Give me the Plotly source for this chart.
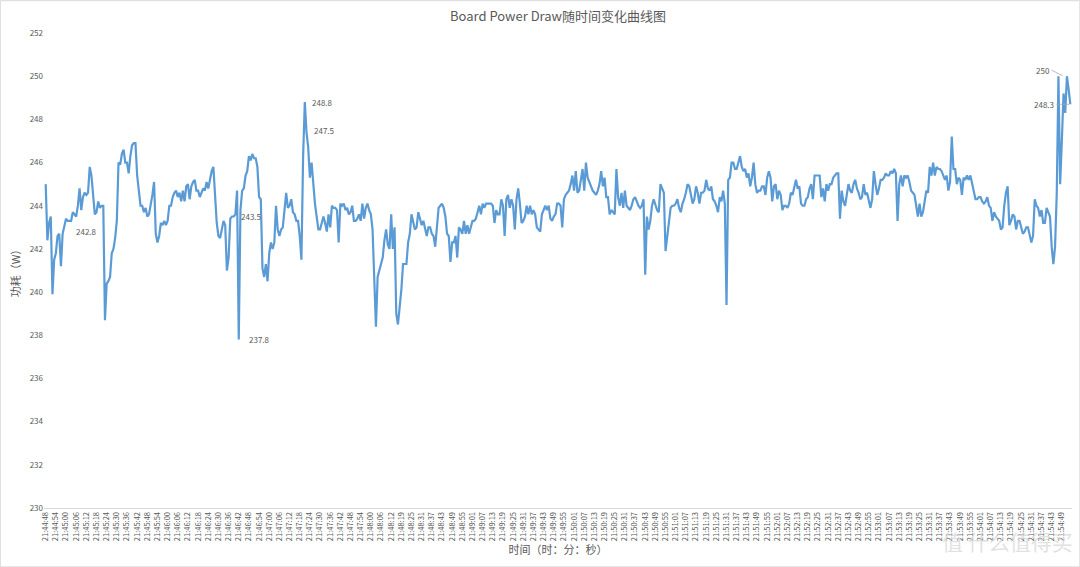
import datetime as dt
import plotly.graph_objects as go

# ---------------- data ----------------
start_time = "21:44:48"
skip_after_index = 206          # one second missing in the log after this sample
label_step = 6

power_a = [245.0, 242.4, 243.2, 243.5, 239.9, 241.5, 241.8, 242.6, 242.7, 241.2,
           242.7, 243.0, 243.4, 243.3, 243.3, 243.3, 243.7, 243.6, 243.5, 244.0,
           244.8, 243.8, 244.4, 244.6, 244.5, 244.6, 245.8, 245.4, 244.4, 243.6,
           243.7, 244.2, 243.9, 244.0, 244.0, 238.7, 240.4, 240.5, 240.7, 241.8,
           242.0, 242.5, 243.3, 246.0, 245.9, 246.4, 246.6, 246.0, 246.0, 245.5,
           246.3, 246.8, 246.9, 246.9, 245.4, 244.7, 244.0, 244.0, 243.7, 243.9,
           243.5, 243.6, 244.0, 244.5, 245.1, 242.7, 242.3, 242.6, 243.2, 243.1,
           243.3, 243.1, 243.3, 244.0, 244.0, 244.4, 244.6, 244.7, 244.4, 244.6,
           244.2, 244.7, 244.2, 244.9, 245.0, 244.3, 244.9, 245.1, 245.2, 244.7,
           244.7, 244.4, 244.6, 244.8, 244.7, 245.1, 244.8, 245.3, 245.6, 245.8,
           244.6, 243.2, 242.6, 242.5, 242.9, 243.3, 243.1, 241.0, 241.6, 243.4,
           243.5, 243.5, 243.6, 244.7, 237.8, 243.8, 244.7, 244.8, 245.4, 245.6,
           246.3, 246.1, 246.4, 246.2, 246.2, 245.8, 244.4, 244.3, 241.1, 240.7,
           241.3, 240.5, 241.8, 242.3, 242.0, 242.3, 244.0, 242.9, 242.6, 242.9,
           243.0, 243.8, 244.6, 243.9, 244.0, 244.3, 243.7, 243.6, 243.3, 243.3]

power_b = [242.6, 241.5, 246.3, 248.8, 247.4, 246.7, 245.3, 246.0, 244.9, 244.1,
           243.5, 242.9, 242.9, 243.2, 243.5, 243.2, 242.8, 243.6, 243.0, 244.0,
           243.9, 243.9, 243.8, 242.3, 244.1, 244.0, 244.1, 243.8, 243.9, 243.6,
           243.7, 244.0, 243.3, 243.3, 243.4, 243.6, 243.3, 244.1, 243.4, 243.9,
           244.1, 243.8, 243.6, 242.9, 240.9, 238.4, 240.7, 241.0, 241.2, 241.6,
           242.4, 242.9, 242.2, 242.0, 243.6, 242.0, 243.0, 239.0, 238.5, 239.2,
           240.1, 241.3, 241.3, 241.3, 242.3, 242.7, 243.6, 243.3, 242.9, 243.0,
           243.7, 243.4, 243.1, 243.3, 242.9, 242.6, 243.0, 243.0, 242.7, 242.6,
           242.1, 243.2, 243.9, 244.0, 244.1, 243.9, 243.5, 242.7, 242.6, 241.4,
           242.3, 242.3, 242.6, 241.6, 243.0, 242.9, 242.7, 243.3, 242.7, 243.1,
           242.7, 243.0, 243.3, 243.3, 243.4, 243.7, 244.0, 243.6, 244.1, 243.9,
           244.1, 244.1, 244.1, 244.1, 244.0, 243.2, 243.8, 243.6, 243.6, 244.3,
           244.0, 242.6, 244.3, 244.5, 243.9, 244.3, 244.0, 242.9, 244.3, 244.8,
           244.1, 243.2, 243.3, 243.5, 244.0, 243.6, 244.0, 243.6, 243.8, 243.6,
           243.0, 242.9, 242.8, 243.6, 243.8, 244.0, 243.8, 244.0, 243.4, 243.3,
           243.5, 243.6, 244.1]

power_c = [244.1, 244.0, 243.0, 244.3, 244.5, 244.6, 244.7, 245.0, 245.4, 244.7,
           245.6, 244.6, 244.7, 245.2, 245.7, 244.7, 246.0, 245.3, 245.1, 244.9,
           244.7, 244.6, 244.5, 244.7, 245.0, 245.6, 244.9, 245.3, 244.4, 244.4,
           243.6, 243.8, 243.7, 243.6, 245.7, 244.4, 244.0, 244.6, 243.9, 244.7,
           244.0, 243.9, 243.8, 244.0, 244.3, 244.4, 244.2, 244.0, 243.9, 244.0,
           244.3, 240.8, 243.5, 242.9, 243.3, 244.0, 244.3, 244.0, 243.8, 243.7,
           245.0, 244.8, 244.6, 241.9, 242.6, 243.3, 243.9, 244.0, 244.0, 244.1,
           244.3, 243.9, 243.7, 244.1, 244.3, 244.6, 245.0, 244.9, 244.5, 244.1,
           244.3, 244.9, 244.6, 244.1, 244.6, 244.6, 244.7, 245.2, 244.8, 244.7,
           244.9, 244.3, 244.2, 244.0, 243.7, 244.4, 244.2, 244.7, 244.1, 239.4,
           245.2, 245.3, 246.0, 246.0, 245.7, 245.7, 246.0, 246.3, 245.8, 245.6,
           245.7, 245.3, 245.5, 244.9, 245.3, 246.0, 245.0, 244.6, 244.7, 244.7,
           244.9, 244.9, 244.5, 245.3, 245.6, 245.3, 244.2, 244.9, 245.0, 244.3,
           244.7, 244.5, 243.8, 244.0, 244.0, 243.9, 244.1, 244.6, 244.5, 244.9,
           245.2, 244.8, 244.9, 244.1, 244.0, 244.0, 244.3, 244.4, 244.8, 245.0,
           244.3, 245.4, 245.4]

power_d = [245.4, 245.4, 244.4, 244.8, 244.2, 245.0, 244.7, 245.0, 245.0, 245.3,
           245.4, 245.5, 245.5, 243.4, 244.7, 244.2, 244.0, 244.6, 245.0, 244.7,
           244.6, 245.0, 245.2, 244.8, 244.6, 244.3, 244.4, 245.0, 244.5, 244.6,
           244.3, 243.9, 244.3, 245.6, 245.0, 244.5, 244.8, 245.2, 245.2, 245.3,
           245.5, 245.4, 245.4, 245.6, 245.5, 245.7, 245.5, 243.3, 245.0, 245.4,
           244.9, 245.4, 245.3, 245.4, 245.1, 244.7, 244.6, 244.5, 244.0, 243.5,
           244.1, 243.5, 243.7, 244.3, 244.7, 244.6, 245.8, 245.4, 246.0, 245.4,
           245.8, 245.7, 245.7, 245.6, 245.4, 245.2, 245.4, 244.7, 245.1, 247.2,
           245.7, 245.7, 245.0, 245.3, 245.2, 244.5, 245.3, 245.2, 245.4, 245.2,
           245.4, 245.0, 244.7, 244.3, 244.3, 244.4, 244.4, 244.2, 244.1, 244.2,
           244.4, 244.0, 243.9, 243.3, 243.7, 243.5, 243.4, 243.3, 242.9, 243.0,
           244.0, 244.6, 244.9, 243.1, 243.3, 243.6, 243.5, 242.9, 243.3, 243.3,
           243.0, 242.7, 242.8, 243.0, 243.0, 242.6, 242.3, 242.6, 244.3, 244.0,
           243.9, 243.5, 243.8, 243.2, 243.2, 243.9, 243.7, 243.5, 242.1, 241.3,
           242.1, 244.6, 250.0, 245.0, 247.0, 249.2, 248.3, 250.0, 249.4, 248.7]

power = power_a + power_b + power_c + power_d

# data labels shown in the original chart: (sample index, value, text)
label_points = [(17, 242.8, "242.8"), (114, 243.5, "243.5"), (119, 237.8, "237.8"),
                (156, 248.8, "248.8"), (157, 247.5, "247.5")]
leader_labels = [(601, 250.0, "250"), (605, 248.7, "248.3")]

title_text = "Board Power Draw随时间变化曲线图"
x_title = "时间（时：分：秒）"
y_title = "功耗（W）"
y_ticks = list(range(230, 253, 2))
watermark = "值 什么值得买"

# ---------------- categories (time stamps) ----------------
t0 = dt.datetime.strptime(start_time, "%H:%M:%S")
times = []
for i in range(len(power)):
    sec = i + (1 if i > skip_after_index else 0)
    times.append((t0 + dt.timedelta(seconds=sec)).strftime("%H:%M:%S"))
idx = list(range(len(power)))
tick_idx = idx[::label_step]
tick_txt = times[::label_step]

FONT = "Noto Sans CJK SC, Noto Sans, sans-serif"
GREY = "#595959"

fig = go.Figure()
fig.add_trace(go.Scatter(x=idx, y=power, mode="lines",
                         line=dict(color="#5B9BD5", width=2.2),
                         customdata=times, hovertemplate="%{customdata}: %{y}<extra></extra>"))

annotations = []
for i, v, t in label_points:
    annotations.append(dict(x=i, y=v, xref="x", yref="y", text=t, showarrow=False,
                            xanchor="left", yanchor="middle",
                            font=dict(size=8, color=GREY, family=FONT)))
for i, v, t in leader_labels:
    annotations.append(dict(x=i, y=v, xref="x", yref="y", text=t, showarrow=True,
                            arrowhead=0, arrowwidth=0.8, arrowcolor="#a6a6a6",
                            ax=-12 if t == "250" else -14, ay=-6 if t == "250" else 0,
                            xanchor="right", yanchor="middle", standoff=1,
                            font=dict(size=8, color=GREY, family=FONT)))
annotations.append(dict(x=0.5, y=1, xref="paper", yref="paper", yanchor="bottom",
                        yshift=6, text=title_text, showarrow=False,
                        font=dict(size=13, color=GREY, family=FONT)))
annotations.append(dict(x=1.003, y=-0.069, xref="paper", yref="paper", text=watermark,
                        showarrow=False, xanchor="right", yanchor="middle",
                        font=dict(size=21, color="rgba(215,215,215,0.75)", family=FONT)))

fig.update_layout(
    width=1080, height=567,
    margin=dict(l=44, r=8, t=33, b=59),
    paper_bgcolor="white", plot_bgcolor="white",
    showlegend=False,
    annotations=annotations,
    shapes=[dict(type="rect", xref="paper", yref="paper", x0=-0.0425, x1=1.0076,
                 y0=-0.124, y1=1.068, line=dict(color="#d9d9d9", width=1))],
    xaxis=dict(range=[-1, len(power)], tickmode="array", tickvals=tick_idx,
               ticktext=tick_txt, tickangle=-90, showgrid=False, zeroline=False,
               showline=True, linecolor="#d9d9d9", linewidth=1, ticks="",
               tickfont=dict(size=7.5, color=GREY, family=FONT),
               title=dict(text=x_title, font=dict(size=11, color=GREY, family=FONT),
                          standoff=2)),
    yaxis=dict(range=[230, 252], tickmode="array", tickvals=y_ticks, showgrid=False,
               zeroline=False, showline=False, ticks="",
               tickfont=dict(size=8, color=GREY, family=FONT),
               title=dict(text=y_title, font=dict(size=11, color=GREY, family=FONT),
                          standoff=6)),
)

fig.write_html("out.html")
